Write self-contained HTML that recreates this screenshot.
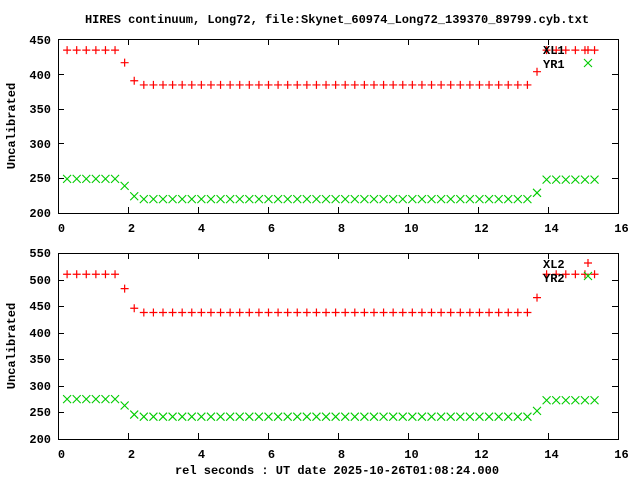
<!DOCTYPE html>
<html><head><meta charset="utf-8"><style>
body{margin:0;background:#fff}
svg text{font-family:"Liberation Mono","DejaVu Sans Mono",monospace;font-weight:bold;font-size:12px;fill:#000}
</style></head><body>
<svg id="s" width="640" height="480" xmlns="http://www.w3.org/2000/svg">
<rect width="640" height="480" fill="#fff"/>
<text x="337" y="23" text-anchor="middle">HIRES continuum, Long72, file:Skynet_60974_Long72_139370_89799.cyb.txt</text>
<g id="ax"></g>
<text x="51" y="44" text-anchor="end">450</text>
<text x="51" y="79" text-anchor="end">400</text>
<text x="51" y="113" text-anchor="end">350</text>
<text x="51" y="148" text-anchor="end">300</text>
<text x="51" y="182" text-anchor="end">250</text>
<text x="51" y="217" text-anchor="end">200</text>
<text x="51" y="257" text-anchor="end">550</text>
<text x="51" y="284" text-anchor="end">500</text>
<text x="51" y="310" text-anchor="end">450</text>
<text x="51" y="337" text-anchor="end">400</text>
<text x="51" y="363" text-anchor="end">350</text>
<text x="51" y="390" text-anchor="end">300</text>
<text x="51" y="416" text-anchor="end">250</text>
<text x="51" y="443" text-anchor="end">200</text>
<g id="xt"></g>
<text transform="translate(15,126) rotate(-90)" text-anchor="middle">Uncalibrated</text>
<text transform="translate(15,346) rotate(-90)" text-anchor="middle">Uncalibrated</text>
<text x="337" y="474" text-anchor="middle">rel seconds : UT date 2025-10-26T01:08:24.000</text>
<text x="543" y="54">XL1</text>
<text x="543" y="68">YR1</text>
<text x="543" y="268">XL2</text>
<text x="543" y="282">YR2</text>
</svg>
<script>
var s=document.getElementById('ax'),xt=document.getElementById('xt'),h='',t='';
var plots=[{top:39,bot:213,v0:200,v1:450,step:50,r:[434,416,390,384,403,434],g:[249,239,224,220,229,248],L:[50,63]},
{top:253,bot:439,v0:200,v1:550,step:50,r:[510,483,446,438,466,510],g:[275,263,246,242,253,273],L:[263,276]}];
plots.forEach(function(p){
 h+='<rect x="58.5" y="'+(p.top+.5)+'" width="560" height="'+(p.bot-p.top)+'" fill="none" stroke="#000"/>';
 for(var v=p.v0;v<=p.v1;v+=p.step){var y=p.bot-(p.bot-p.top)*(v-p.v0)/(p.v1-p.v0);y=Math.round(y)+.5;
  h+='<path d="M58 '+y+'h6M618 '+y+'h-6" stroke="#000"/>';}
 for(var k=0;k<=16;k+=2){var x=Math.round(58+35*k)+.5;
  h+='<path d="M'+x+' '+p.bot+'v-6M'+x+' '+p.top+'v6" stroke="#000"/>';
  t+='<text x="'+(x+3)+'" y="'+(p.bot+19)+'" text-anchor="middle">'+k+'</text>';}
 function val(a,i){if(i<6)return a[0];if(i==6)return a[1];if(i==7)return a[2];if(i<49)return a[3];if(i==49)return a[4];return a[5];}
 for(var i=0;i<56;i++){var xv=0.26+i*0.274,x=58+35*xv;
  var yr=p.bot-(p.bot-p.top)*(val(p.r,i)-p.v0)/(p.v1-p.v0);
  var yg=p.bot-(p.bot-p.top)*(val(p.g,i)-p.v0)/(p.v1-p.v0);
  h+='<path d="M'+(x-4)+' '+yr+'h8M'+x+' '+(yr-4)+'v8" stroke="#f00" stroke-width="1.2"/>';
  h+='<path d="M'+(x-4)+' '+(yg-4)+'l8 8M'+(x-4)+' '+(yg+4)+'l8 -8" stroke="#0c0" stroke-width="1.1"/>';}
 var x=588,y=p.L[0];h+='<path d="M'+(x-4)+' '+y+'h8M'+x+' '+(y-4)+'v8" stroke="#f00" stroke-width="1.2"/>';
 y=p.L[1];h+='<path d="M'+(x-4)+' '+(y-4)+'l8 8M'+(x-4)+' '+(y+4)+'l8 -8" stroke="#0c0" stroke-width="1.1"/>';
});
s.innerHTML=h;xt.innerHTML=t;
</script>
</body></html>
